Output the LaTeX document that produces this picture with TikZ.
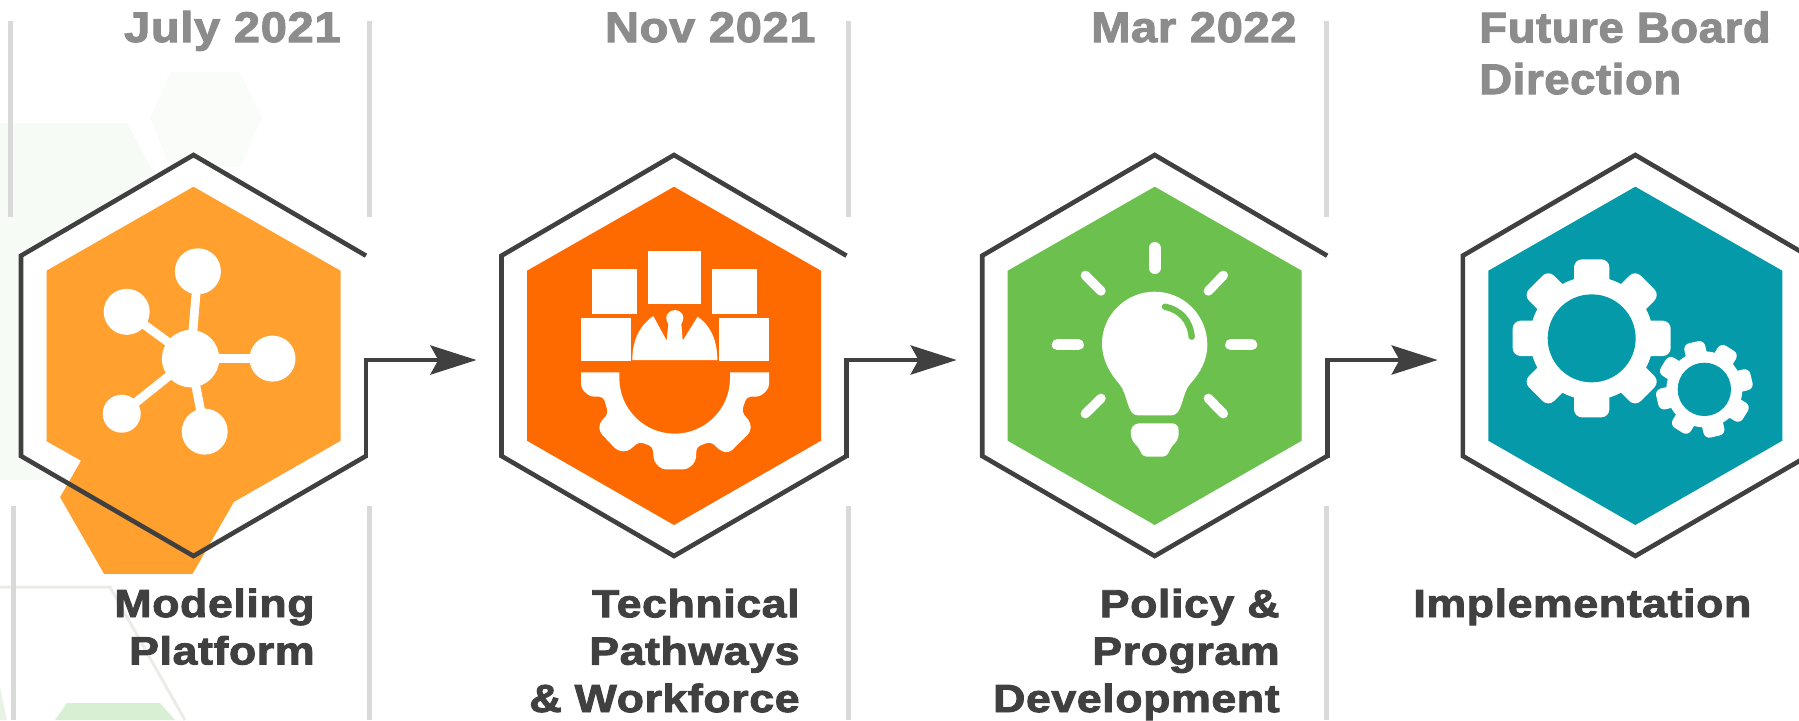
\documentclass[tikz,border=0pt]{standalone}
\usepackage{fontspec}
\usetikzlibrary{arrows.meta}
\newfontfamily\blk[UprightFont={* Bold},FakeBold=2.4,FakeStretch=1.06,LetterSpace=1.5]{Liberation Sans}
\newfontfamily\blkmid[UprightFont={* Bold},FakeBold=2.4,FakeStretch=1.1,LetterSpace=1.5]{Liberation Sans}
\newfontfamily\blkwide[UprightFont={* Bold},FakeBold=2.4,FakeStretch=1.14,LetterSpace=1.5]{Liberation Sans}
\definecolor{dk}{HTML}{404040}
\definecolor{gy}{HTML}{8C8C8C}
\definecolor{rule}{HTML}{D9D9D9}
\definecolor{cA}{HTML}{FFA02F}
\definecolor{cB}{HTML}{FF6A00}
\definecolor{cC}{HTML}{6CC04E}
\definecolor{cD}{HTML}{049AAA}
\definecolor{bgA}{HTML}{F9FCF8}
\definecolor{bgB}{HTML}{F7FBF5}
\definecolor{bgL}{HTML}{E9ECE7}
\definecolor{bgC}{HTML}{D8EFD3}
\definecolor{bgD}{HTML}{E8F3E5}
\tikzset{
  x=0.5pt,y=-0.5pt,
  rulebar/.style={draw=rule,line width=2.5pt},
  outline/.style={draw=dk,line width=2.3pt,line join=miter},
  flowline/.style={draw=dk,line width=2.3pt,line cap=rect,-{Stealth[length=23pt,width=14.5pt,inset=3.9pt]}},
  datelabel/.style={font=\fontsize{21.4}{25.8}\blkmid,text=gy,inner sep=0pt,align=right},
  datelong/.style={font=\fontsize{21.4}{25.8}\blk,text=gy,inner sep=0pt,align=left},
  steplabel/.style={font=\fontsize{19.6}{23.7}\blkwide,text=dk,inner sep=0pt,align=right},
  zoomed/.style={x=0.16667pt,y=-0.16667pt},
  ray/.style={draw=white,line cap=round}
}
\newcommand{\hexbody}[3]{% name, centre x, colour
  \coordinate (#1t) at (#2,155);
  \coordinate (#1tl) at (#2-172.5,255.7);
  \coordinate (#1tr) at (#2+172.5,255.7);
  \coordinate (#1bl) at (#2-172.5,456);
  \coordinate (#1br) at (#2+172.5,456);
  \coordinate (#1b) at (#2,556);
  \fill[white] (#1t)--(#1tr)--(#1br)--(#1b)--(#1bl)--(#1tl)--cycle;
  \fill[#3] (#2,186.7)--(#2+147,270.7)--(#2+147,440.7)--(#2,525)--(#2-147,440.7)--(#2-147,270.7)--cycle;
}
\newcommand{\hexline}[1]{%
  \draw[outline] (#1tr)--(#1t)--(#1tl)--(#1bl)--(#1b)--(#1br);
}
\begin{document}
\begin{tikzpicture}
\useasboundingbox (0,0) rectangle (1799,720);
\clip (0,0) rectangle (1799,720);
% faint background hexagons
\fill[bgA] (170,72)--(240,72)--(262,118)--(240,167)--(170,167)--(150,118)--cycle;
\fill[bgB] (0,123)--(127,123)--(190,240)--(60,480)--(0,480)--cycle;
\draw[bgL,line width=1.5pt] (0,587)--(110,587)--(185,720);
\fill[bgC] (67,703)--(160,703)--(175,720)--(55,720)--cycle;
\fill[bgD] (0,687)--(7,720)--(0,720)--cycle;
% vertical rules
\draw[rulebar] (10.7,20.7)--(10.7,216.7);
\draw[rulebar] (13.8,506)--(13.8,720);
\foreach \rx in {369.7,848.3,1326.7}{
  \draw[rulebar] (\rx,20.7)--(\rx,216.7);
  \draw[rulebar] (\rx,506)--(\rx,720);
}
% hexagons
\hexbody{a}{193.5}{cA}
\fill[cA] (45.9,440.8)--(81.1,460.5)--(60.1,497.2)--(104.1,573.9)--(192.5,573.9)--(234.2,501.4)--(340.2,440.8)--cycle;
\hexbody{b}{674}{cB}
\hexbody{c}{1154.7}{cC}
\hexbody{d}{1635.3}{cD}
% icon 1: network
\foreach \px/\py in {197.9/271.3,126.7/311.8,272.5/358.6,204.7/431.6,121.7/413.7}
  \draw[white,line width=4.4pt] (190.6,358.6)--(\px,\py);
\fill[white] (190.6,358.6) circle [radius=28.7];
\foreach \px/\py in {197.9/271.3,126.7/311.8,272.5/358.6,204.7/431.6}
  \fill[white] (\px,\py) circle [radius=23];
\fill[white] (121.7,413.7) circle [radius=19];
% icon 2: helmet and gear
\begin{scope}[shift={(480,130)},zoomed]
\fill[white] (504,363) rectangle (663,522);
\fill[white] (336,417) rectangle (471,551);
\fill[white] (696,417) rectangle (831,551);
\fill[white] (303,564) rectangle (453,692);
\fill[white] (717,564) rectangle (867,692);
\fill[white] (457,690) .. controls (457,630) and (480,585) .. (520,558) -- (560,632) -- (565,582)
  .. controls (548,555) and (570,540) .. (585,540) .. controls (600,540) and (620,555) .. (604,582)
  -- (608,632) -- (653,560) .. controls (690,585) and (712,630) .. (712,690) -- cycle;
\fill[white] (303,727) -- (418,727) -- (418,745)
  arc [start angle=180,end angle=0,radius=166] -- (750,727) -- (867,727)
  [rounded corners=2pt] -- (867,775) -- (840,800) -- (800,800) -- (785,845) -- (812,878)
  -- (812,905) -- (748,968) -- (725,965) -- (692,935) -- (650,950) -- (647,995) -- (622,1018)
  -- (545,1018) -- (522,995) -- (518,950) -- (478,935) -- (442,965) -- (412,962) -- (358,905)
  -- (358,880) -- (385,850) -- (370,800) -- (330,800) -- (303,775) [sharp corners] -- cycle;
\end{scope}
% icon 3: bulb
\begin{scope}[shift={(960,130)},zoomed]
\draw[ray,line width=6pt] (584,354)--(584,414);
\draw[ray,line width=4.7pt] (376,436)--(423,483);
\draw[ray,line width=4.7pt] (790,436)--(745,483);
\draw[ray,line width=5.6pt] (292,644)--(355,644);
\draw[ray,line width=5.6pt] (812,644)--(875,644);
\draw[ray,line width=4.7pt] (423,805)--(376,851);
\draw[ray,line width=4.7pt] (745,805)--(790,851);
\fill[white] (584,485) .. controls (670,485) and (742,555) .. (742,645)
  .. controls (742,690) and (720,730) .. (690,762) .. controls (665,790) and (668,856) .. (635,856)
  -- (533,856) .. controls (500,856) and (505,795) .. (478,762)
  .. controls (450,730) and (426,690) .. (426,640) .. controls (426,555) and (498,485) .. (584,485) -- cycle;
\draw[cC,line width=3.2pt,line cap=round] (615,530) .. controls (660,540) and (690,570) .. (695,620);
\fill[white,rounded corners=2pt] (525,880) -- (650,880) -- (658,900) -- (653,932) -- (635,948) -- (620,980) -- (548,980) -- (535,950) -- (517,935) -- (510,900) -- cycle;
\end{scope}
% icon 4: gears
\begin{scope}[shift={(1400,130)},zoomed]
\foreach \a in {0,45,...,315}
  \fill[white,rotate around={\a:(575,625)},rounded corners=4pt] (522,388) rectangle (628,500);
\fill[white] (575,625) circle [radius=185];
\fill[cD] (575,625) circle [radius=132];
\foreach \a in {13,58,...,328}
  \fill[white,rotate around={\a:(913,778)},rounded corners=3pt] (881,633) rectangle (945,720);
\fill[white] (913,778) circle [radius=114];
\fill[cD] (913,778) circle [radius=80];
\end{scope}
\hexline{a}\hexline{b}\hexline{c}\hexline{d}
% connectors
\foreach \s/\tipx in {a/476.5,b/956.7,c/1437.7}{
  \coordinate (\s tip) at (\tipx,360);
  \draw[flowline] (\s br) |- (\s tip);
}
% labels
\node[datelabel,anchor=base east] (date1) at (341,42) {July 2021};
\node[datelabel,anchor=base east] (date2) at (816,42) {Nov 2021};
\node[datelabel,anchor=base east] (date3) at (1297,42) {Mar 2022};
\node[datelong,anchor=base west] (date4) at (1479,94) {Future Board\\Direction};
\node[steplabel,anchor=base east] (step1) at (315,664.4) {Modeling\\Platform};
\node[steplabel,anchor=base east] (step2) at (800,712) {Technical\\Pathways\\\& Workforce};
\node[steplabel,anchor=base east] (step3) at (1280,712) {Policy \&\\Program\\Development};
\node[steplabel,anchor=base west,align=left] (step4) at (1413,617) {Implementation};
\end{tikzpicture}
\end{document}
